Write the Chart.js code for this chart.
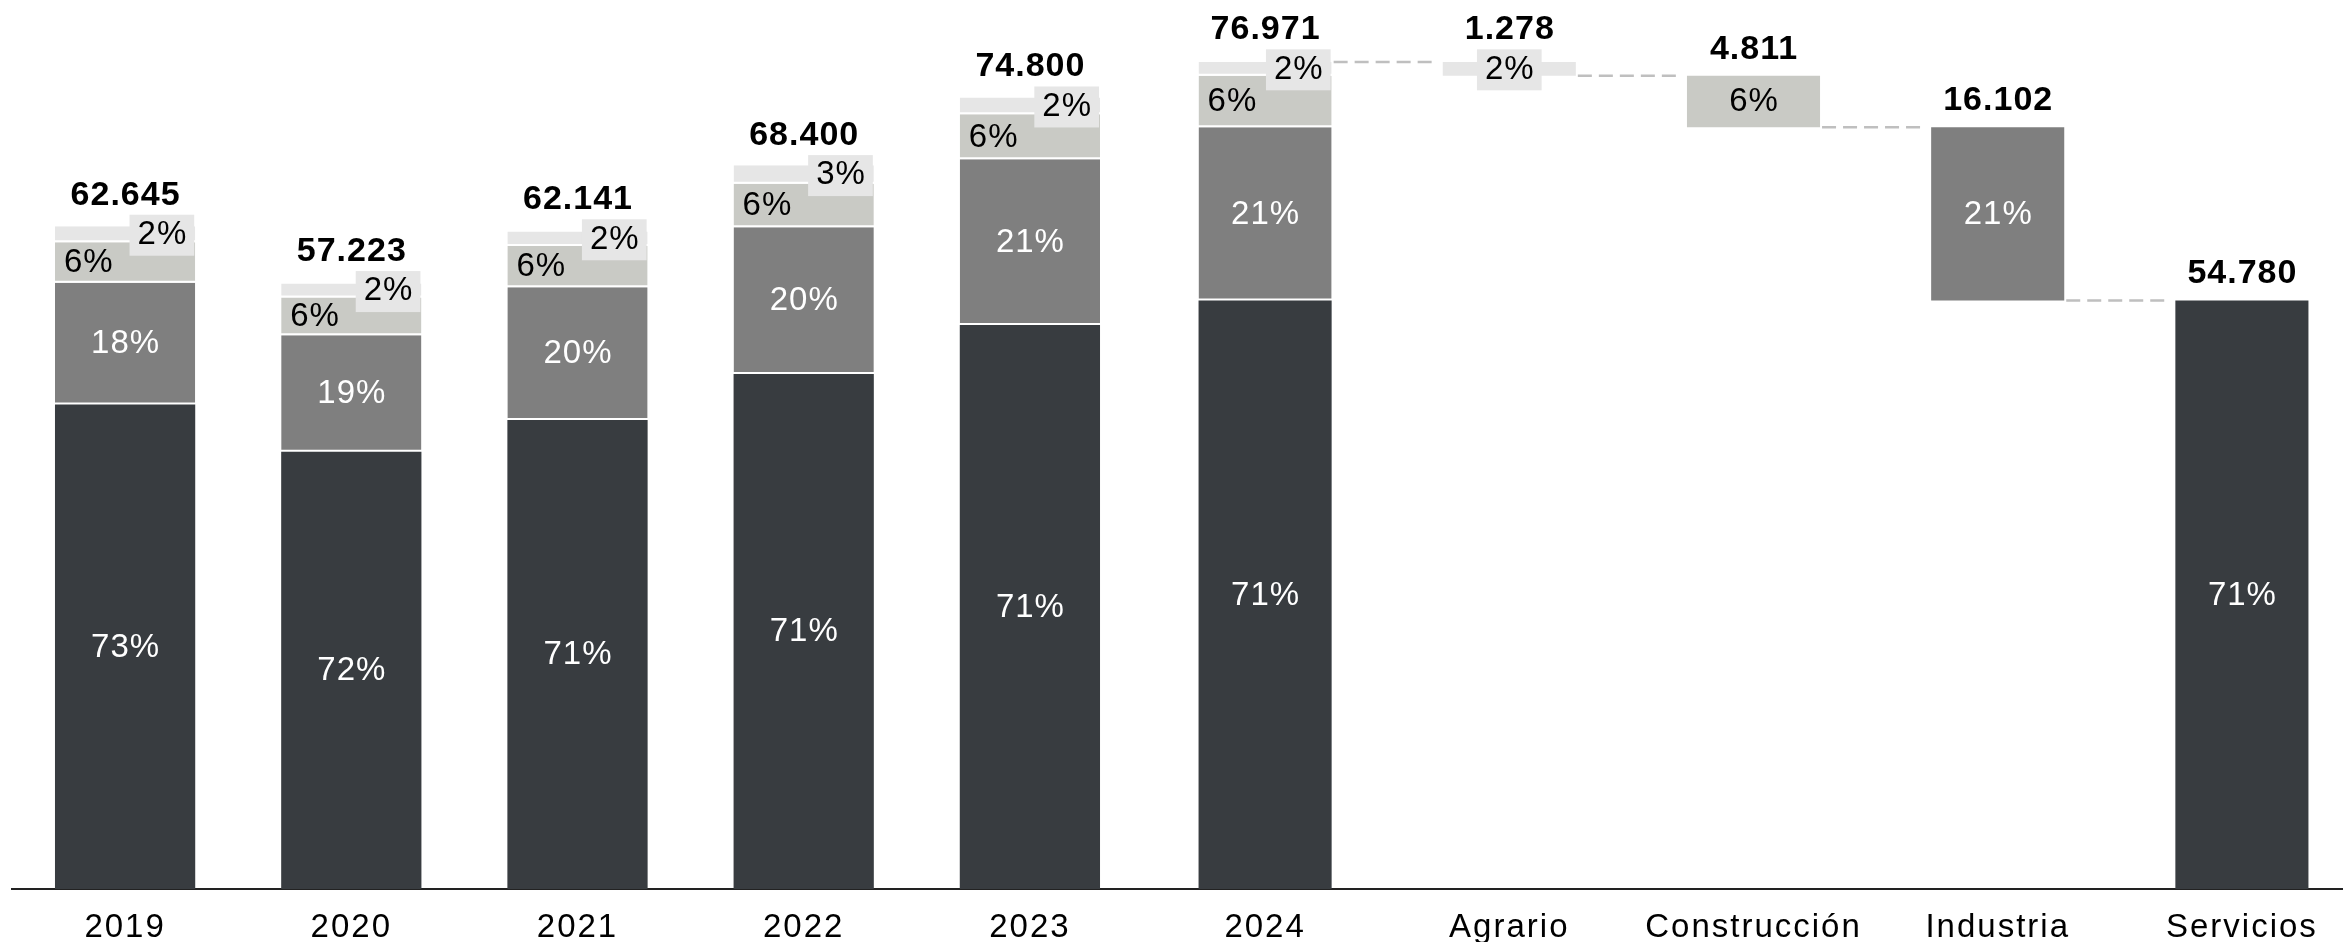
<!DOCTYPE html>
<html lang="es">
<head>
<meta charset="utf-8">
<title>Ocupados por sector</title>
<script src="https://cdn.jsdelivr.net/npm/chart.js@4.4.1/dist/chart.umd.min.js"></script>
<style>
  html, body { margin: 0; padding: 0; background: #fff; overflow: hidden; }
  #wrap { position: relative; width: 2343px; height: 942px; overflow: hidden; }
  #chartYears { position: absolute; left: 0; top: 0; }
  #chartSectors { position: absolute; left: 1143px; top: 0; }
</style>
</head>
<body>
<div id="wrap">
  <canvas id="chartYears" width="1143" height="1000"></canvas>
  <canvas id="chartSectors" width="1221" height="1000"></canvas>
</div>
<script>
/* ── Data ─────────────────────────────────────────────── */
const YEARS        = ["2019", "2020", "2021", "2022", "2023"];
const SERVICIOS    = [45800, 41330, 44330, 48680, 53310];
const INDUSTRIA    = [11490, 11000, 12540, 13870, 15660];
const CONSTRUCCION = [3840, 3570, 3905, 4100, 4250];
const AGRARIO      = [1515, 1323, 1366, 1750, 1580];

const LAST_YEAR   = "2024";
const SECTORS     = ["Agrario", "Construcción", "Industria", "Servicios"];
const VALUES_2024 = [1278, 4811, 16102, 54780];

/* ── Style ────────────────────────────────────────────── */
const FONT = '"Liberation Sans", Arial, Helvetica, sans-serif';
const COLORS = {
  "Servicios": "#383c40",
  "Industria": "#7f7f7f",
  "Construcción": "#c9cac5",
  "Agrario": "#e6e6e6"
};
const WHITE_TEXT = { "Servicios": true, "Industria": true };
const STACK_ORDER = ["Servicios", "Industria", "Construcción", "Agrario"]; // bottom -> top
const BASELINE_Y = 889;
const PCT_SIZE = 33, TOTAL_SIZE = 34;

function fmt(v) { return String(v).replace(/\B(?=(\d{3})+(?!\d))/g, "."); }

function drawText(ctx, txt, x, capMid, size, bold, color, align, spacing) {
  ctx.font = (bold ? "bold " : "") + size + "px " + FONT;
  ctx.letterSpacing = spacing + "px";
  ctx.fillStyle = color;
  ctx.textAlign = align;
  ctx.textBaseline = "alphabetic";
  ctx.fillText(txt, align === "center" ? x + spacing / 2 : x, capMid + size * 0.358);
}

/* labels, totals and waterfall connectors */
function makeLabels(totals, pctBase, waterfall) {
  return {
    id: "sectorLabels",
    beforeDraw(chart) { chart.ctx.letterSpacing = "2px"; },
    afterDatasetsDraw(chart) {
      const ctx = chart.ctx;
      const n = chart.data.labels.length;
      const geo = [];
      ctx.save();

      // connectors first, behind the labels
      if (waterfall) {
        for (let i = 0; i < n; i++) {
          let g = null;
          chart.data.datasets.forEach((ds, d) => {
            if (ds.data[i] == null) return;
            const p = chart.getDatasetMeta(d).data[i].getProps(["x", "y", "base", "width"], true);
            const hi = Array.isArray(ds.data[i]) ? ds.data[i][1] : ds.data[i];
            if (!g) g = { x: p.x, w: p.width, hi: hi };
            g.hi = Math.max(g.hi, hi);
          });
          geo.push(g);
        }
        ctx.strokeStyle = "#bfbfbf";
        ctx.lineWidth = 2.5;
        ctx.setLineDash([14, 7]);
        for (let i = 0; i < n - 1; i++) {
          const a = geo[i], b = geo[i + 1];
          const yy = chart.scales.y.getPixelForValue(b.hi);
          ctx.beginPath();
          ctx.moveTo(a.x + a.w / 2 + 2, yy);
          ctx.lineTo(b.x - b.w / 2 - 6, yy);
          ctx.stroke();
        }
        ctx.setLineDash([]);
      }

      for (let i = 0; i < n; i++) {
        const isWf = waterfall && i > 0;
        let barTop = Infinity, boxTop = null, cx = 0;
        chart.data.datasets.forEach((ds, d) => {
          const raw = ds.data[i];
          if (raw == null) return;
          const p = chart.getDatasetMeta(d).data[i].getProps(["x", "y", "base", "width"], true);
          const value = Array.isArray(raw) ? raw[1] - raw[0] : raw;
          const top = Math.min(p.y, p.base), bot = Math.max(p.y, p.base);
          const mid = (top + bot) / 2;
          const left = p.x - p.width / 2, right = p.x + p.width / 2;
          const pct = Math.round(value / pctBase[i] * 100) + "%";
          const sector = ds.label;
          const color = WHITE_TEXT[sector] ? "#fff" : "#000";
          barTop = Math.min(barTop, top);
          cx = p.x;

          if (sector === "Agrario") {
            ctx.font = PCT_SIZE + "px " + FONT;
            ctx.letterSpacing = "1px";
            const bw = ctx.measureText(pct).width + 15, bh = 41;
            const bx = isWf ? p.x : right - 1 - bw / 2;
            boxTop = mid + 1 - bh / 2;
            ctx.fillStyle = COLORS.Agrario;
            ctx.fillRect(bx - bw / 2, boxTop, bw, bh);
            drawText(ctx, pct, bx, mid - 2, PCT_SIZE, false, color, "center", 1);
          } else if (sector === "Construcción" && !isWf) {
            drawText(ctx, pct, left + 9, mid - 2, PCT_SIZE, false, color, "left", 1);
          } else {
            drawText(ctx, pct, p.x, mid - 2, PCT_SIZE, false, color, "center", 1);
          }
        });
        const baseY = boxTop !== null ? boxTop - 10 : barTop - 17;
        drawText(ctx, fmt(totals[i]), cx, baseY - TOTAL_SIZE * 0.358, TOTAL_SIZE, true, "#000", "center", 1);
      }
      ctx.restore();
    }
  };
}

function xScale(stacked) {
  return {
    stacked: stacked,
    grid: { display: false, drawTicks: false },
    border: { display: true, color: "#222", width: 2 },
    ticks: { color: "#000", font: { family: FONT, size: 33 }, padding: 19 },
    afterFit: s => { s.height = 60; }
  };
}

/* ── Chart 1: years, stacked ─────────────────────────── */
const SERIES = {
  "Servicios": SERVICIOS,
  "Industria": INDUSTRIA,
  "Construcción": CONSTRUCCION,
  "Agrario": AGRARIO
};
const YEAR_TOTALS = YEARS.map((_, i) => STACK_ORDER.reduce((s, k) => s + SERIES[k][i], 0));

new Chart(document.getElementById("chartYears"), {
  type: "bar",
  data: {
    labels: YEARS,
    datasets: STACK_ORDER.map(k => ({
      label: k,
      data: SERIES[k],
      backgroundColor: COLORS[k],
      borderColor: "#fff",
      borderSkipped: false,
      borderWidth: k === "Servicios" ? 0 : { top: 0, right: 0, bottom: 2, left: 0 },
      barPercentage: 0.62,
      categoryPercentage: 1
    }))
  },
  options: {
    responsive: false,
    animation: false,
    layout: { padding: { left: 12, right: 0, top: BASELINE_Y - 80000 * 0.01058, bottom: 51 } },
    plugins: { legend: { display: false }, tooltip: { enabled: false } },
    scales: {
      x: xScale(true),
      y: { stacked: true, display: false, min: 0, max: 80000 }
    }
  },
  plugins: [makeLabels(YEAR_TOTALS, YEAR_TOTALS, false)]
});

/* ── Chart 2: 2024 + waterfall by sector ─────────────── */
const RANGES = {};
let acc = 0;
for (let j = SECTORS.length - 1; j >= 0; j--) {
  RANGES[SECTORS[j]] = [acc, acc + VALUES_2024[j]];
  acc += VALUES_2024[j];
}
const TOTAL_2024 = acc;
const WF_TOTALS = [TOTAL_2024].concat(VALUES_2024);
const WF_BASE = WF_TOTALS.map(() => TOTAL_2024);

new Chart(document.getElementById("chartSectors"), {
  type: "bar",
  data: {
    labels: [LAST_YEAR].concat(SECTORS),
    datasets: STACK_ORDER.map(k => ({
      label: k,
      data: [RANGES[k]].concat(SECTORS.map(s => (s === k ? RANGES[k] : null))),
      backgroundColor: COLORS[k],
      borderColor: "#fff",
      borderSkipped: false,
      borderWidth: c => (c.dataIndex === 0 && k !== "Servicios") ? { top: 0, right: 0, bottom: 2, left: 0 } : 0,
      grouped: false,
      barPercentage: 0.545,
      categoryPercentage: 1
    }))
  },
  options: {
    responsive: false,
    animation: false,
    layout: { padding: { left: 0, right: 0, top: BASELINE_Y - 80000 * 0.010745, bottom: 51 } },
    plugins: { legend: { display: false }, tooltip: { enabled: false } },
    scales: {
      x: xScale(false),
      y: { display: false, min: 0, max: 80000 }
    }
  },
  plugins: [makeLabels(WF_TOTALS, WF_BASE, true)]
});
</script>
</body>
</html>
